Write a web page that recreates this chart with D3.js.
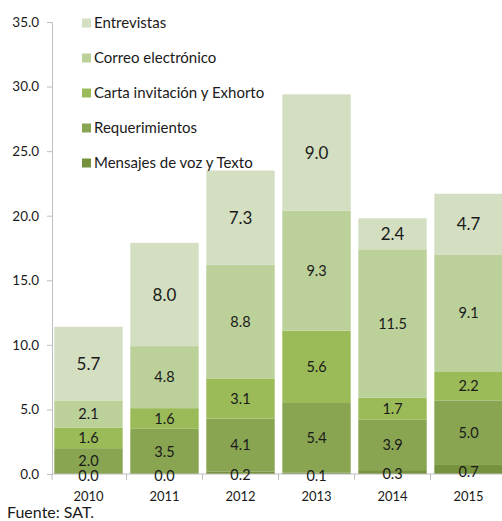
<!DOCTYPE html>
<html>
<head>
<meta charset="utf-8">
<script src="https://cdn.jsdelivr.net/npm/d3@7"></script>
<style>
  body { margin: 0; background: #fff; }
  text { font-family: Lato, "Open Sans", sans-serif; fill: #1a1a1a; }
</style>
</head>
<body>
<div id="chart"></div>
<script>
const width = 502;
const height = 521;

const years = ["2010", "2011", "2012", "2013", "2014", "2015"];
const seriesNames = ["Mensajes de voz y Texto", "Requerimientos", "Carta invitación y Exhorto", "Correo electrónico", "Entrevistas"];
const mensajes = [0.0, 0.0, 0.2, 0.1, 0.3, 0.7];
const requerimientos = [2.0, 3.5, 4.1, 5.4, 3.9, 5.0];
const carta = [1.6, 1.6, 3.1, 5.6, 1.7, 2.2];
const correo = [2.1, 4.8, 8.8, 9.3, 11.5, 9.1];
const entrevistas = [5.7, 8.0, 7.3, 9.0, 2.4, 4.7];
const yTicks = [0, 5, 10, 15, 20, 25, 30, 35];
const colors = ["#76923c", "#89a552", "#9bbb59", "#bcd09a", "#d3dfc0"];

const allSeries = [mensajes, requerimientos, carta, correo, entrevistas];
const rows = years.map((y, i) => {
    const r = { year: y };
    seriesNames.forEach((s, k) => r[s] = allSeries[k][i]);
    return r;
});
const stacked = d3.stack().keys(seriesNames)(rows);

const svg = d3.select("#chart")
    .append("svg")
    .attr("width", width)
    .attr("height", height);

const x = d3.scaleBand().domain(years).range([52, 505]).paddingInner(0.1).paddingOuter(0.03);
const y = d3.scaleLinear().domain([0, 35]).range([474, 22]);

// y axis
const yAxis = d3.axisLeft(y).tickValues(yTicks).tickFormat(d3.format(".1f")).tickSize(5).tickPadding(8);
const gy = svg.append("g").attr("transform", "translate(52,0)").call(yAxis);
gy.select(".domain").attr("stroke", "#bfbfbf");
gy.selectAll(".tick line").attr("stroke", "#bfbfbf");
gy.selectAll(".tick text").style("font-size", "13.5px").style("font-family", "Lato").attr("fill", "#1a1a1a");

// bars
const layers = svg.append("g").selectAll("g")
    .data(stacked)
    .join("g")
    .attr("fill", (d, i) => colors[i]);

layers.selectAll("rect")
    .data(d => d)
    .join("rect")
    .attr("x", d => x(d.data.year))
    .attr("y", d => y(d[1]))
    .attr("width", x.bandwidth())
    .attr("height", d => y(d[0]) - y(d[1]));

// x axis
const gx = svg.append("g");
gx.append("line")
    .attr("x1", 52).attr("x2", width)
    .attr("y1", y(0)).attr("y2", y(0))
    .attr("stroke", "#bfbfbf");
const step = x.step();
const bounds = years.map(d => x(d) - step * x.paddingInner() / 2).slice(1).concat([52]);
gx.selectAll(".tk")
    .data(bounds)
    .join("line")
    .attr("x1", d => d).attr("x2", d => d)
    .attr("y1", y(0)).attr("y2", y(0) + 6)
    .attr("stroke", "#bfbfbf");
gx.selectAll(".yl")
    .data(years)
    .join("text")
    .attr("x", d => x(d) + x.bandwidth() / 2)
    .attr("y", 501)
    .attr("text-anchor", "middle")
    .style("font-size", "13px")
    .text(d => d);

// value labels (bottom layer nudged down a little, as in the original)
stacked.forEach((layer, k) => {
    svg.append("g").selectAll("text")
        .data(layer)
        .join("text")
        .attr("x", d => x(d.data.year) + x.bandwidth() / 2)
        .attr("y", d => (y(d[0]) + y(d[1])) / 2 + (k === 0 ? 2 : 0))
        .attr("dy", "0.36em")
        .attr("text-anchor", "middle")
        .style("font-size", k === 4 ? "17px" : "14.5px")
        .text(d => d3.format(".1f")(d[1] - d[0]));
});

// legend
const legendNames = seriesNames.slice().reverse();
const legendColors = colors.slice().reverse();
const lg = svg.append("g").selectAll("g")
    .data(legendNames)
    .join("g")
    .attr("transform", (d, i) => `translate(82,${23 + i * 35})`);
lg.append("rect")
    .attr("x", 0).attr("y", -4.5)
    .attr("width", 9).attr("height", 9)
    .attr("fill", (d, i) => legendColors[i]);
lg.append("text")
    .attr("x", 12)
    .attr("dy", "0.36em")
    .style("font-size", "15px")
    .text(d => d);

// source
svg.append("text")
    .attr("x", 7)
    .attr("y", 518)
    .style("font-size", "16px")
    .text("Fuente: SAT.");
</script>
</body>
</html>
